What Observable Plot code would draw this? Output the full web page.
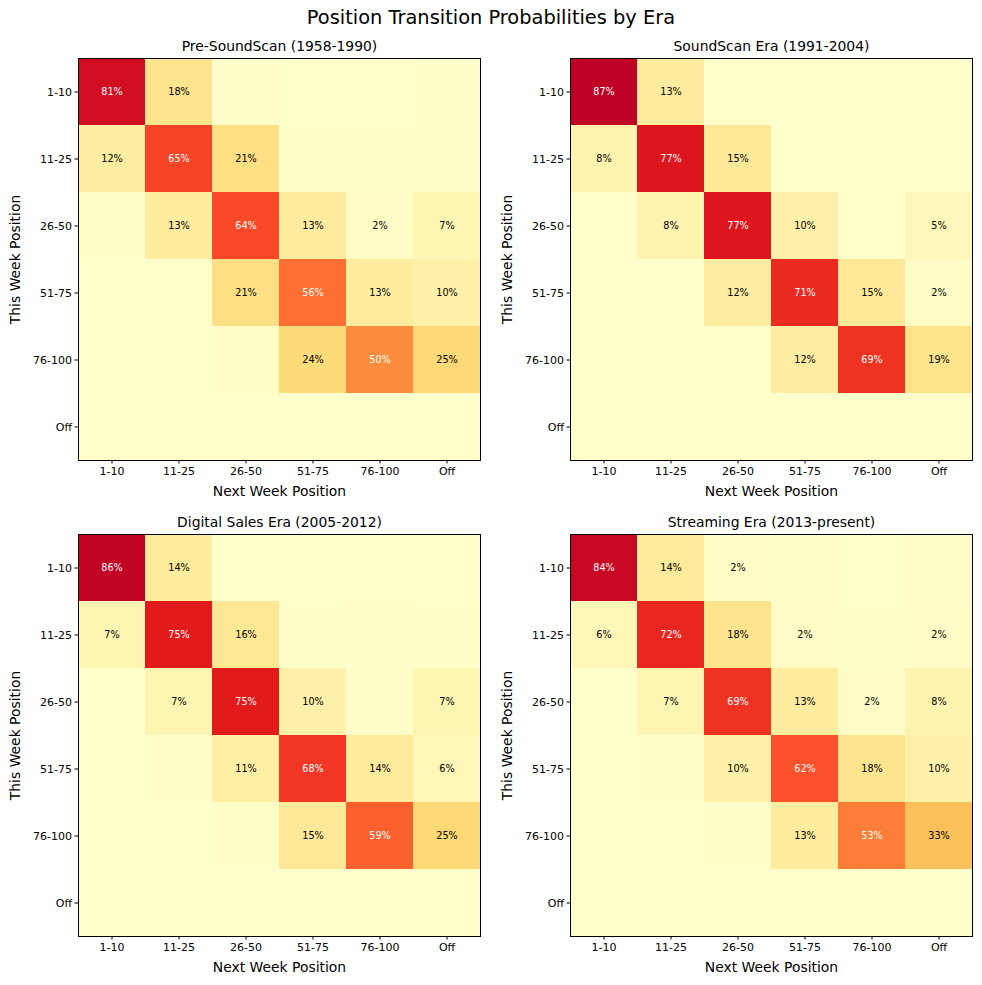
<!DOCTYPE html>
<html><head><meta charset="utf-8">
<script src="https://cdn.jsdelivr.net/npm/d3@7"></script>
<script src="https://cdn.jsdelivr.net/npm/@observablehq/plot@0.6"></script>
<style>
body{margin:0;background:#fff;font-family:"DejaVu Sans",sans-serif;}
#fig{position:relative;width:982px;height:985px;background:#fff;}
.panel{position:absolute;}
#sup{position:absolute;left:0;width:982px;top:6px;text-align:center;font-size:19.4px;color:#000;}
</style></head><body>
<div id="fig"><div id="sup">Position Transition Probabilities by Era</div></div>
<script>
const positions = ["1-10", "11-25", "26-50", "51-75", "76-100", "Off"];
const eraTitles = ["Pre-SoundScan (1958-1990)", "SoundScan Era (1991-2004)", "Digital Sales Era (2005-2012)", "Streaming Era (2013-present)"];
// rows = this week position, cols = next week position, values in %
const preSoundScan = [
  [81, 18, 0.5, 0.3, 0.2, 0.4],
  [12, 65, 21, 0.7, 0.6, 0.7],
  [0.8, 13, 64, 13, 2, 7],
  [0.1, 0.3, 21, 56, 13, 10],
  [0.1, 0.2, 0.9, 24, 50, 25],
  [0, 0, 0, 0, 0, 0]
];
const soundScanEra = [
  [87, 13, 0.1, 0, 0, 0.1],
  [8, 77, 15, 0.2, 0.1, 0.2],
  [0.1, 8, 77, 10, 0.3, 5],
  [0, 0.1, 12, 71, 15, 2],
  [0, 0, 0.2, 12, 69, 19],
  [0, 0, 0, 0, 0, 0]
];
const digitalSalesEra = [
  [86, 14, 0.2, 0.1, 0.1, 0.2],
  [7, 75, 16, 0.8, 0.5, 0.8],
  [0.2, 7, 75, 10, 0.8, 7],
  [0.1, 0.7, 11, 68, 14, 6],
  [0.1, 0.2, 0.9, 15, 59, 25],
  [0, 0, 0, 0, 0, 0]
];
const streamingEra = [
  [84, 14, 2, 0.6, 0.3, 0.4],
  [6, 72, 18, 2, 0.9, 2],
  [0.3, 7, 69, 13, 2, 8],
  [0.1, 0.6, 10, 62, 18, 10],
  [0.1, 0.2, 0.4, 13, 53, 33],
  [0, 0, 0, 0, 0, 0]
];
const matrices = [preSoundScan, soundScanEra, digitalSalesEra, streamingEra];
const colorStops = [0, 12.5, 25, 37.5, 50, 62.5, 75, 87.5, 100];
const colorRange = ["#ffffcc", "#ffeda0", "#fed976", "#feb24c", "#fd8d3c", "#fc4e2a", "#e31a1c", "#bd0026", "#800026"];

const panelPos = [[0, 30], [492, 30], [0, 506], [492, 506]];
const fig = document.getElementById("fig");

matrices.forEach((m, k) => {
  const data = [];
  m.forEach((row, i) => row.forEach((v, j) => data.push({from: positions[i], to: positions[j], v})));
  const plot = Plot.plot({
    width: 490,
    height: 476,
    marginLeft: 78,
    marginRight: 10,
    marginTop: 28,
    marginBottom: 46,
    style: {fontFamily: "DejaVu Sans, sans-serif", background: "transparent", color: "#000", overflow: "visible"},
    x: {domain: positions, padding: 0, label: null},
    y: {domain: positions, padding: 0, label: null},
    color: {type: "linear", domain: colorStops, range: colorRange, interpolate: "rgb"},
    marks: [
      Plot.cell(data, {x: "to", y: "from", fill: "v", inset: 0, shapeRendering: "crispEdges"}),
      Plot.text(data, {filter: d => d.v >= 1.5 && d.v > 45, x: "to", y: "from", text: d => `${Math.round(d.v)}%`, fill: "white", fontSize: 9.7}),
      Plot.text(data, {filter: d => d.v >= 1.5 && d.v <= 45, x: "to", y: "from", text: d => `${Math.round(d.v)}%`, fill: "black", fontSize: 9.7}),
      Plot.frame({stroke: "black", strokeWidth: 1}),
      Plot.axisX({anchor: "bottom", tickSize: 3.5, tickPadding: 3, fontSize: 11, label: null}),
      Plot.axisY({anchor: "left", tickSize: 3.5, tickPadding: 3, fontSize: 11, label: null}),
      Plot.text([eraTitles[k]], {frameAnchor: "top", text: d => d, dy: -12, lineAnchor: "middle", fontSize: 13.9, fill: "black"}),
      Plot.text(["Next Week Position"], {frameAnchor: "bottom", text: d => d, dy: 31, lineAnchor: "middle", fontSize: 13.9, fill: "black"}),
      Plot.text(["This Week Position"], {frameAnchor: "left", text: d => d, dx: -63, rotate: -90, lineAnchor: "middle", textAnchor: "middle", fontSize: 13.9, fill: "black"})
    ]
  });
  plot.classList.add("panel");
  plot.style.left = panelPos[k][0] + "px";
  plot.style.top = panelPos[k][1] + "px";
  plot.style.position = "absolute";
  fig.appendChild(plot);
});
</script>
</body></html>
